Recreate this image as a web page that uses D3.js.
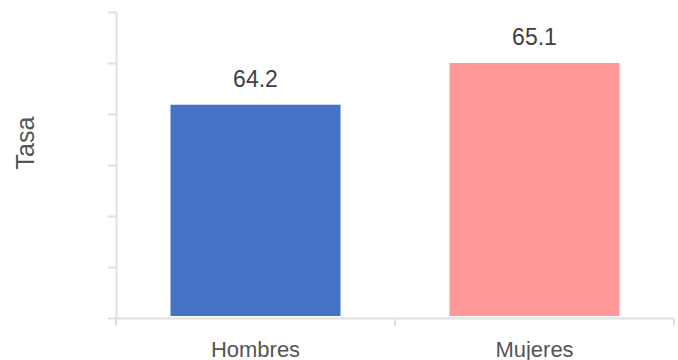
<!DOCTYPE html>
<html><head><meta charset="utf-8">
<script src="https://cdn.jsdelivr.net/npm/d3@7"></script>
<style>body{margin:0;background:#fff}svg{display:block}</style>
</head><body>
<script>
const categories = ["Hombres", "Mujeres"];
const values = [64.2, 65.1];
const colors = ["#4472C4", "#FF9999"];
const yTicks = [59.6, 60.7, 61.8, 62.9, 64.0, 65.1, 66.2];
const yLabel = "Tasa";

const W = 678, H = 360;
const m = {left: 116, right: 4, top: 12, bottom: 42};
const svg = d3.select("body").append("svg").attr("width", W).attr("height", H);
const x = d3.scaleBand().domain(categories).range([m.left, W - m.right]).paddingInner(0).paddingOuter(0);
const y = d3.scaleLinear().domain([yTicks[0], yTicks[yTicks.length-1]]).range([H - m.bottom, m.top]);
const axisColor = "#e0e0e0";
const font = "Liberation Sans, Arial, Helvetica, sans-serif";

// y axis
const ya = svg.append("g").attr("transform", `translate(${m.left},0)`)
  .call(d3.axisLeft(y).tickValues(yTicks).tickFormat("").tickSize(8).tickSizeOuter(0));
ya.selectAll("path,line").attr("stroke", axisColor).attr("stroke-width", 2);

// x axis
const xa = svg.append("g").attr("transform", `translate(0,${H - m.bottom})`)
  .call(d3.axisBottom(x).tickSize(0).tickSizeOuter(0));
xa.select("path").attr("stroke", axisColor).attr("stroke-width", 2);
xa.selectAll(".tick text").attr("font-family", font).attr("font-size", 22).attr("fill", "#555").attr("dy", 0).attr("y", 39);
// category boundary ticks
const bounds = [x.range()[0], ...categories.map(c => x(c) + x.bandwidth())];
svg.append("g").selectAll("line").data(bounds).join("line")
  .attr("x1", d => d).attr("x2", d => d)
  .attr("y1", H - m.bottom).attr("y2", H - m.bottom + 8)
  .attr("stroke", axisColor).attr("stroke-width", 2);

// bars
const bw = 170;
svg.append("g").selectAll("rect").data(values).join("rect")
  .attr("x", (d, i) => x(categories[i]) + x.bandwidth()/2 - bw/2)
  .attr("width", bw)
  .attr("y", d => y(d))
  .attr("height", d => y(yTicks[0]) - 2 - y(d))
  .attr("fill", (d, i) => colors[i]);

// value labels
svg.append("g").selectAll("text").data(values).join("text")
  .attr("x", (d, i) => x(categories[i]) + x.bandwidth()/2)
  .attr("y", d => y(d) - 18)
  .attr("text-anchor", "middle")
  .attr("font-family", font).attr("font-size", 23).attr("fill", "#404040")
  .text(d => d.toFixed(1));

// y label
svg.append("text")
  .attr("transform", `translate(34,143) rotate(-90)`)
  .attr("text-anchor", "middle")
  .attr("font-family", font).attr("font-size", 25).attr("fill", "#555")
  .text(yLabel);
</script>
</body></html>
